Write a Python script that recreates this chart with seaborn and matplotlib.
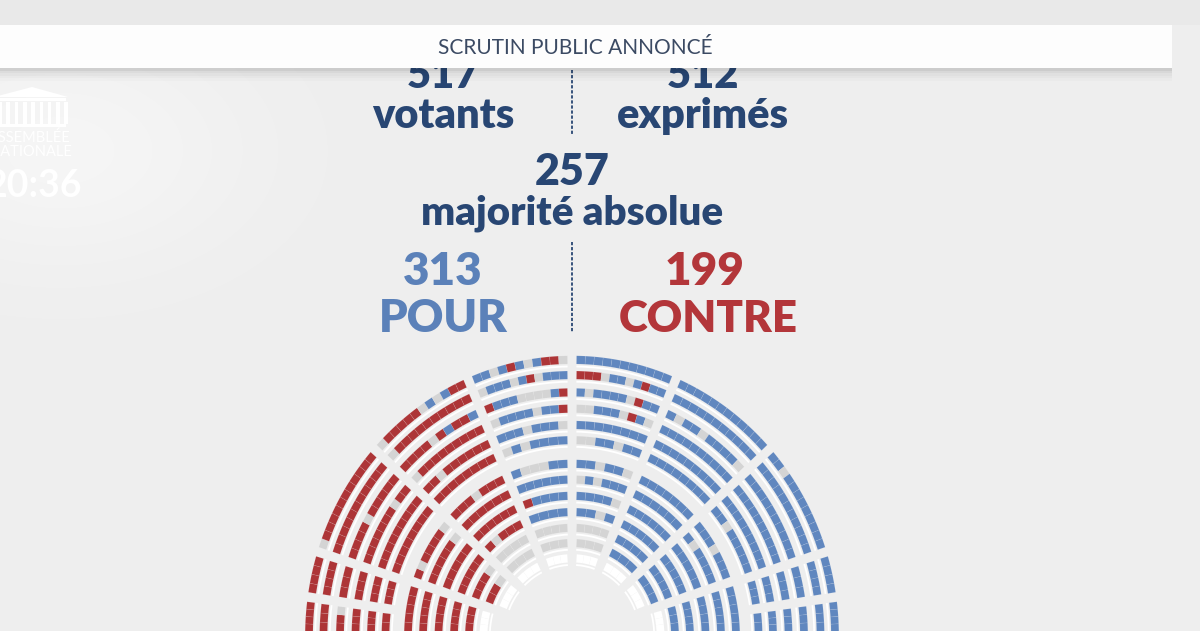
import matplotlib
matplotlib.use("Agg")
import matplotlib.pyplot as plt
import numpy as np
import seaborn as sns
from matplotlib.patches import Polygon, Rectangle

# vote result
title = "SCRUTIN PUBLIC ANNONCÉ"
clock = "20:36"
votants = 517
exprimes = 512
majorite = 257
pour = 313
contre = 199

# hemicycle rows (radius in px), outer tier and inner tier
outer_radii = [263, 248.5, 232, 216.5, 201, 186.5]
inner_radii = [164, 149, 133.5, 118, 103, 88.5, 74]
# sector limits in degrees, from the left end (180) to the right end (0)
outer_bounds = [180, 172, 162.5, 138, 113, 90, 67, 42, 17.5, 8, 0]
inner_bounds = [180, 162, 138, 113, 90, 67, 42, 18, 0]

# one string per row (outermost first), seats read left to right
# B = pour, R = contre, G = absent / non-votant, W = siège vide
outer_seats = [
    ["RRRR", "RRR", "RRG", "RRR", "RRR", "RR"],
    ["RRRR", "RRRR", "RRR", "RRR", "RRR", "RRR"],
    ["GRRRRRRRRRRR", "RRRRRRRRRRR", "RRRRGRRRRR", "RRRRRRRGRR", "RRRRRRRRR", "RRRRRRRR"],
    ["GRRRRRGBGBRR", "GRRRRRRRRRR", "RRRRGRBRRB", "GRRRRRRRRR", "RRGRRRRRR", "RRRRRRRR"],
    ["BBGBRBGBRRG", "GBBBGBRGBBB", "RBBBGGGGBR", "GBBBBGBBR", "BBBGBBBG", "GBGBBBB"],
    ["BBBBBBBBBBB", "RRRGBBGBRBB", "BGBBBBGRBB", "GGBBBGRBG", "BBBBBBBB", "GGBBGBB"],
    ["BBBBBBBBBBBB", "BBBBBBBBBBB", "BGBBGBBBBG", "BBBBBBBBBB", "BBBBBBBBB", "BBBBBBBB"],
    ["BBGBBBBBBBBB", "BBBBBBBBBBB", "BBBBBBBBBB", "BBBBBBBBBB", "BBBBBBBBB", "BBGBBBBB"],
    ["BBBB", "BBBB", "BBB", "BBB", "BBB", "BBB"],
    ["BBBB", "BBB", "BBB", "BBB", "BBB", "BB"],
]
inner_seats = [
    ["RRRRR", "RRRRR", "RRRR", "RRRR", "RRR", "WWW", ""],
    ["RGRRRRG", "RRRRRG", "RRRRR", "RRRRR", "RRRG", "RRG", "WWW"],
    ["RRRGRRR", "RRRRRR", "RRRRRR", "RGRRR", "GGGG", "GGG", "WWW"],
    ["BGGGBB", "BBBBBB", "RBBBB", "BBBB", "GGGG", "GGG", "WWW"],
    ["BBGBBG", "GBGBBB", "BBBBG", "BBGB", "GGGG", "GGG", "WWW"],
    ["BBBBBBB", "BBBBBB", "BBBBBB", "BBBBB", "BBBB", "BBB", "WWW"],
    ["BBBGBBB", "BGBBBB", "BBBBB", "BBBBB", "BBBB", "BBB", "WWW"],
    ["BBBBB", "BBBBB", "BBBB", "BBBB", "BBB", "WWW", ""],
]

sns.set_theme(style="white")
plt.rcParams["font.family"] = ["Lato", "DejaVu Sans"]

navy = "#284673"
title_color = "#3b4a63"
blue_txt = "#5b81b9"
red_txt = "#b3363a"
seat_colors = {"B": "#6087bf", "R": "#ad3537", "G": "#d4d4d4", "W": "#ffffff"}

W, H = 1200, 631
fig = plt.figure(figsize=(12, 6.31), dpi=100, facecolor="#eeeeee")

# background layer in pixel coordinates (y down)
bg = fig.add_axes([0, 0, 1, 1], zorder=0)
bg.set_xlim(0, W)
bg.set_ylim(H, 0)
bg.axis("off")

yy, xx = np.mgrid[0:H:2, 0:W:2]
glow = np.zeros(xx.shape + (4,))
glow[..., :3] = 1.0
glow[..., 3] = 0.45 * np.exp(-(((xx - 60) / 190.0) ** 2 + ((yy - 150) / 120.0) ** 2))
bg.imshow(glow, extent=[0, W, H, 0], aspect="auto", zorder=0, interpolation="bilinear")

bg.add_patch(Rectangle((0, 0), W, 25, color="#e9e9e9", zorder=1, lw=0))
for i, a in enumerate([0.14, 0.09, 0.06, 0.035, 0.015]):
    bg.add_patch(Rectangle((0, 68 + 2.5 * i), 1172, 2.5, color="black", alpha=a, zorder=4, lw=0))
bg.add_patch(Rectangle((0, 25), 1172, 43, color="#fdfdfd", zorder=5, lw=0))
bg.text(575, 54, title, ha="center", va="baseline", fontsize=15, color=title_color, zorder=6)

# logo and clock, cut by the left edge as in the broadcast frame
logo = "white"
bg.add_patch(Polygon([[-6, 97], [32, 87], [68, 97]], closed=True, color=logo, zorder=2, lw=0))
bg.add_patch(Rectangle((-6, 98), 72, 3, color=logo, zorder=2, lw=0))
for cx_col in np.arange(-2, 66, 8.3):
    bg.add_patch(Rectangle((cx_col, 102), 3.6, 22, color=logo, zorder=2, lw=0))
bg.add_patch(Rectangle((-6, 124), 72, 3, color=logo, zorder=2, lw=0))
bg.text(-11, 142, "ASSEMBLÉE", fontsize=10.5, color=logo, va="baseline", zorder=2)
bg.text(-10, 156, "NATIONALE", fontsize=10.5, color=logo, va="baseline", zorder=2)
bg.text(-14, 197, clock, fontsize=27, fontweight="bold", color=logo, va="baseline", zorder=2)

# key figures
big = dict(ha="center", va="baseline", fontweight="heavy", zorder=2)
bg.text(443, 88, str(votants), fontsize=30, color=navy, **big)
bg.text(443, 128, "votants", fontsize=30, color=navy, **big)
bg.text(703, 88, str(exprimes), fontsize=30, color=navy, **big)
bg.text(703, 128, "exprimés", fontsize=30, color=navy, **big)
bg.text(572, 185, str(majorite), fontsize=31, color=navy, **big)
bg.text(572, 224, "majorité absolue", fontsize=29, color=navy, **big)
bg.text(443, 285, str(pour), fontsize=33, color=blue_txt, **big)
bg.text(443, 332, "POUR", fontsize=32.5, color=blue_txt, **big)
bg.text(705, 285, str(contre), fontsize=33, color=red_txt, **big)
bg.text(708, 332, "CONTRE", fontsize=31.5, color=red_txt, **big)
bg.plot([572, 572], [70, 135], color=navy, lw=1.3, ls=(0, (1.8, 1.0)), zorder=2)
bg.plot([572, 572], [242, 333], color=navy, lw=1.3, ls=(0, (1.8, 1.0)), zorder=2)

# hemicycle on a polar axes, slightly taller than wide
cx, cy, rmax, k = 572, 636, 300, 1.05
ax = fig.add_axes([(cx - rmax) / W, (H - cy - rmax * k) / H, 2 * rmax / W, 2 * rmax * k / H],
                  projection="polar", zorder=1)
ax.set_aspect("auto")
ax.set_ylim(0, rmax)
ax.axis("off")
ax.patch.set_visible(False)


def draw_tier(radii, bounds, sectors, aisle=9.0, depth=7.8):
    for a_left, a_right, rows in zip(bounds[:-1], bounds[1:], sectors):
        for r, row in zip(radii, rows):
            if not row:
                continue
            lo = np.radians(a_right) + aisle / 2 / r
            hi = np.radians(a_left) - aisle / 2 / r
            step = (hi - lo) / len(row)
            thetas = hi - (np.arange(len(row)) + 0.5) * step
            ax.bar(thetas, depth, width=step, bottom=r - depth / 2,
                   color=[seat_colors[c] for c in row],
                   edgecolor=(1, 1, 1, 0.15), linewidth=0.4)
            ax.bar((lo + hi) / 2, 1.8, width=hi - lo, bottom=r - depth / 2 - 3.3,
                   color="white", linewidth=0)


draw_tier(outer_radii, outer_bounds, outer_seats)
draw_tier(inner_radii, inner_bounds, inner_seats)

fig.savefig("out.png", dpi=100, facecolor=fig.get_facecolor())
